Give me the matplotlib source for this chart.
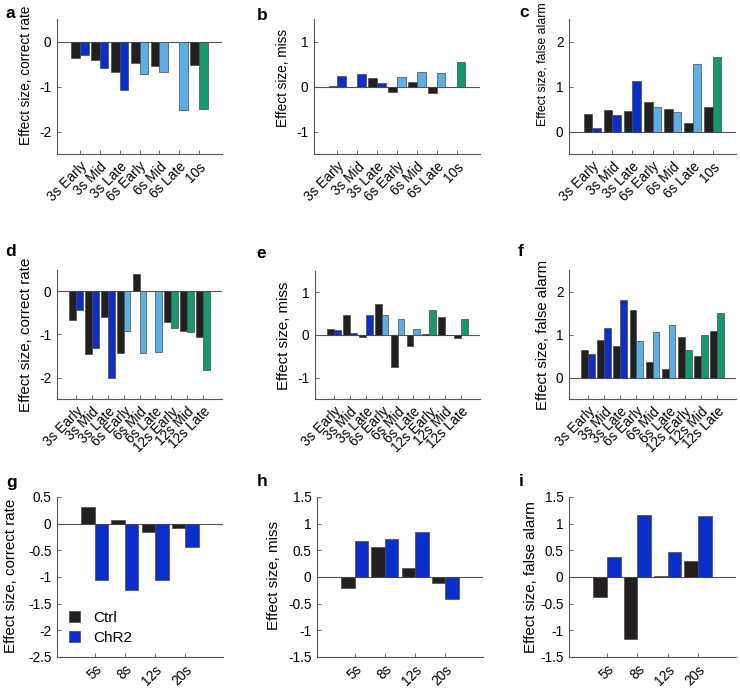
import numpy as np
import matplotlib
matplotlib.use('Agg')
import matplotlib.pyplot as plt

plt.rcParams['font.family'] = ['Liberation Sans', 'DejaVu Sans']
plt.rcParams['axes.unicode_minus'] = False

# categories
cat_top = ['3s Early', '3s Mid', '3s Late', '6s Early', '6s Mid', '6s Late', '10s']
cat_mid = ['3s Early', '3s Mid', '3s Late', '6s Early', '6s Mid', '6s Late',
           '12s Early', '12s Mid', '12s Late']
cat_bot = ['5s', '8s', '12s', '20s']

# row 1 (a, b, c): ctrl / chr2
a_ctrl = [-0.36, -0.41, -0.67, -0.47, -0.54, -0.01, -0.52]
a_chr2 = [-0.30, -0.59, -1.07, -0.73, -0.67, -1.53, -1.50]
b_ctrl = [0.02, -0.01, 0.19, -0.12, 0.09, -0.14, 0.0]
b_chr2 = [0.24, 0.28, 0.08, 0.22, 0.32, 0.30, 0.55]
c_ctrl = [0.39, 0.48, 0.45, 0.66, 0.51, 0.18, 0.55]
c_chr2 = [0.07, 0.37, 1.13, 0.55, 0.44, 1.51, 1.66]

# row 2 (d, e, f)
d_ctrl = [-0.66, -1.45, -0.60, -1.44, 0.41, 0.015, -0.70, -0.92, -1.06]
d_chr2 = [-0.42, -1.32, -2.00, -0.92, -1.42, -1.40, -0.85, -0.95, -1.82]
e_ctrl = [0.15, 0.46, -0.05, 0.73, -0.74, -0.25, 0.02, 0.42, -0.06]
e_chr2 = [0.12, 0.05, 0.46, 0.47, 0.38, 0.13, 0.58, 0.0, 0.38]
f_ctrl = [0.64, 0.88, 0.73, 1.57, 0.36, 0.19, 0.95, 0.49, 1.07]
f_chr2 = [0.55, 1.15, 1.81, 0.85, 1.06, 1.21, 0.63, 1.00, 1.50]

# row 3 (g, h, i)
g_ctrl = [0.31, 0.075, -0.16, -0.09]
g_chr2 = [-1.06, -1.24, -1.06, -0.43]
h_ctrl = [-0.20, 0.56, 0.16, -0.12]
h_chr2 = [0.68, 0.72, 0.85, -0.42]
i_ctrl = [-0.37, -1.16, 0.01, 0.30]
i_chr2 = [0.38, 1.17, 0.46, 1.14]

BLACK = '#231f20'
DBLUE = '#0a2ecc'
LBLUE = '#58b0e8'
GREEN = '#12996f'
EDGE = '#4a4a4a'

col_top = [DBLUE] * 3 + [LBLUE] * 3 + [GREEN]
col_mid = [DBLUE] * 3 + [LBLUE] * 3 + [GREEN] * 3
col_bot = [DBLUE] * 4

W, H = 740, 694


def box(x0, y0, x1, y1):
    return [x0 / W, 1 - y1 / H, (x1 - x0) / W, (y1 - y0) / H]


def panel(fig, rect, cats, ctrl, chr2, colors, ylim, yticks, ylabel, lab, margin, bw=0.43):
    # lab = (label center x px, label center y px, font size)
    ax = fig.add_axes(box(*rect))
    x = np.arange(1, len(cats) + 1)
    ax.bar(x - bw / 2, ctrl, bw, color=BLACK, edgecolor=EDGE, linewidth=0.5, label='Ctrl')
    ax.bar(x + bw / 2, chr2, bw, color=colors, edgecolor=EDGE, linewidth=0.5, label='ChR2')
    ax.axhline(0, color='#555555', linewidth=0.8, zorder=0)
    ax.set_xlim(-margin, len(cats) + 1 + margin)
    ax.set_ylim(*ylim)
    ax.set_yticks(yticks)
    ax.set_yticklabels(['%g' % t for t in yticks])
    ax.set_xticks(x)
    ax.set_xticklabels(cats, rotation=45, ha='right', rotation_mode='anchor')
    for s in ['top', 'right']:
        ax.spines[s].set_visible(False)
    for s in ['left', 'bottom']:
        ax.spines[s].set_color('#555555')
        ax.spines[s].set_linewidth(0.8)
    ax.tick_params(direction='in', length=3, width=0.6, color='#555555', labelsize=9.8, pad=4)
    cx, cy, fs = lab
    ax.set_ylabel(ylabel, fontsize=fs)
    w = rect[2] - rect[0]
    h = rect[3] - rect[1]
    ax.yaxis.set_label_coords((cx + 0.55 * fs * 100 / 72 - rect[0]) / w, (rect[3] - cy) / h)
    return ax


fig = plt.figure(figsize=(7.4, 6.94), dpi=100)

ax_a = panel(fig, (57, 19, 222, 154), cat_top, a_ctrl, a_chr2, col_top,
             (-2.5, 0.5), [-2, -1, 0], 'Effect size, correct rate', (25.5, 75, 9.8), 0.16)
ax_b = panel(fig, (314, 19, 480, 154), cat_top, b_ctrl, b_chr2, col_top,
             (-1.5, 1.5), [-1, 0, 1], 'Effect size, miss', (283, 77.5, 9.8), 0.16)
ax_c = panel(fig, (569, 19, 736, 154), cat_top, c_ctrl, c_chr2, col_top,
             (-0.5, 2.5), [0, 1, 2], 'Effect size, false alarm', (541.5, 64, 8.8), 0.16)

ax_d = panel(fig, (57, 270, 222, 399), cat_mid, d_ctrl, d_chr2, col_mid,
             (-2.5, 0.5), [-2, -1, 0], 'Effect size, correct rate', (25, 334.5, 10.9), 0.2)
ax_e = panel(fig, (315, 271, 480, 399), cat_mid, e_ctrl, e_chr2, col_mid,
             (-1.5, 1.5), [-1, 0, 1], 'Effect size, miss', (283, 336, 10.8), 0.2)
ax_f = panel(fig, (569, 270, 736, 399), cat_mid, f_ctrl, f_chr2, col_mid,
             (-0.5, 2.5), [0, 1, 2], 'Effect size, false alarm', (541.5, 335, 10.7), 0.2)

ax_g = panel(fig, (57, 497, 223, 657), cat_bot, g_ctrl, g_chr2, col_bot,
             (-2.5, 0.5), [-2.5, -2, -1.5, -1, -0.5, 0, 0.5], 'Effect size, correct rate',
             (10, 576, 10.9), 0.25, bw=0.45)
ax_h = panel(fig, (317, 497, 483, 657), cat_bot, h_ctrl, h_chr2, col_bot,
             (-1.5, 1.5), [-1.5, -1, -0.5, 0, 0.5, 1, 1.5], 'Effect size, miss',
             (273, 575, 10.9), 0.25, bw=0.45)
ax_i = panel(fig, (569, 497, 736, 657), cat_bot, i_ctrl, i_chr2, col_bot,
             (-1.5, 1.5), [-1.5, -1, -0.5, 0, 0.5, 1, 1.5], 'Effect size, false alarm',
             (530, 577, 10.9), 0.25, bw=0.45)

ax_g.legend(loc='lower left', bbox_to_anchor=(-0.01, -0.01), frameon=False, fontsize=11,
            handlelength=0.7, handleheight=0.75, handletextpad=0.9, labelspacing=0.4)

letters = [('a', 5, 17.5), ('b', 256.5, 20), ('c', 519, 17),
           ('d', 5, 256.5), ('e', 256.5, 258), ('f', 518, 256.5),
           ('g', 6, 487), ('h', 256.5, 486.5), ('i', 519, 486.5)]
for t, px, py in letters:
    fig.text(px / W, 1 - py / H, t, fontsize=12.5, fontweight='bold', va='baseline', ha='left')

fig.savefig('out.png', dpi=100)
